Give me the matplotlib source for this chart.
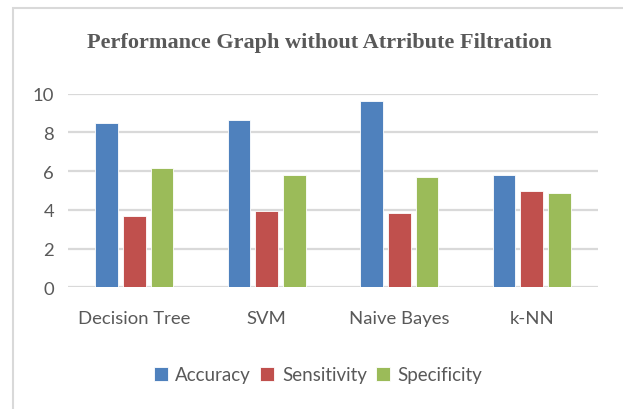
import matplotlib.pyplot as plt
import numpy as np
from matplotlib.patches import Rectangle

categories = ['Decision Tree', 'SVM', 'Naive Bayes', 'k-NN']
accuracy = [8.5, 8.62, 9.6, 5.78]
sensitivity = [3.67, 3.92, 3.85, 4.96]
specificity = [6.15, 5.78, 5.71, 4.89]
series_names = ['Accuracy', 'Sensitivity', 'Specificity']
colors = ['#4F81BD', '#C0504D', '#9BBB59']
yticks = [0, 2, 4, 6, 8, 10]

TXT = '#595959'
W, H = 623, 410

fig = plt.figure(figsize=(W / 100, H / 100), dpi=100)
# light frame around the chart area (only left/top visible in the crop)
fig.patches.append(Rectangle((13 / W, -0.1), 1.2, (H - 9) / H + 0.1,
                             transform=fig.transFigure, fill=False,
                             edgecolor='#d9d9d9', linewidth=1.5))

ax = fig.add_axes([68 / W, (H - 288.3) / H, (598 - 68) / W, (288.3 - 94.7) / H])

x = np.arange(len(categories))
bw = 0.17
step = 0.21
for i, (vals, name) in enumerate(zip([accuracy, sensitivity, specificity], series_names)):
    ax.bar(x + (i - 1) * step, vals, bw, color=colors[i], label=name,
           edgecolor='white', linewidth=0.6, zorder=3)

ax.set_xlim(-0.5, 3.5)
ax.set_ylim(0, 10)
ax.set_yticks(yticks)
ax.set_xticks(x)
ax.set_xticklabels(categories)
for s in ax.spines.values():
    s.set_visible(False)
ax.grid(axis='y', color='#d9d9d9', linewidth=1.6, zorder=0)
ax.tick_params(length=0, labelsize=13.3, labelcolor=TXT)
ax.tick_params(axis='y', pad=10)
ax.tick_params(axis='x', pad=16)
for lab in ax.get_xticklabels() + ax.get_yticklabels():
    lab.set_family('Lato')

fig.text(319 / W, 1 - 43 / H, 'Performance Graph without Atrribute Filtration',
         ha='center', va='center', fontsize=16, fontweight='bold',
         family='Liberation Serif', color=TXT)

leg = fig.legend(loc='center', bbox_to_anchor=(318 / W, 1 - 376 / H), ncol=3,
                 frameon=False, prop={'family': 'Lato', 'size': 13.5},
                 handlelength=0.75, handleheight=0.75, handletextpad=0.4,
                 columnspacing=0.5)
for t in leg.get_texts():
    t.set_color(TXT)

fig.savefig('out.png', dpi=100)
